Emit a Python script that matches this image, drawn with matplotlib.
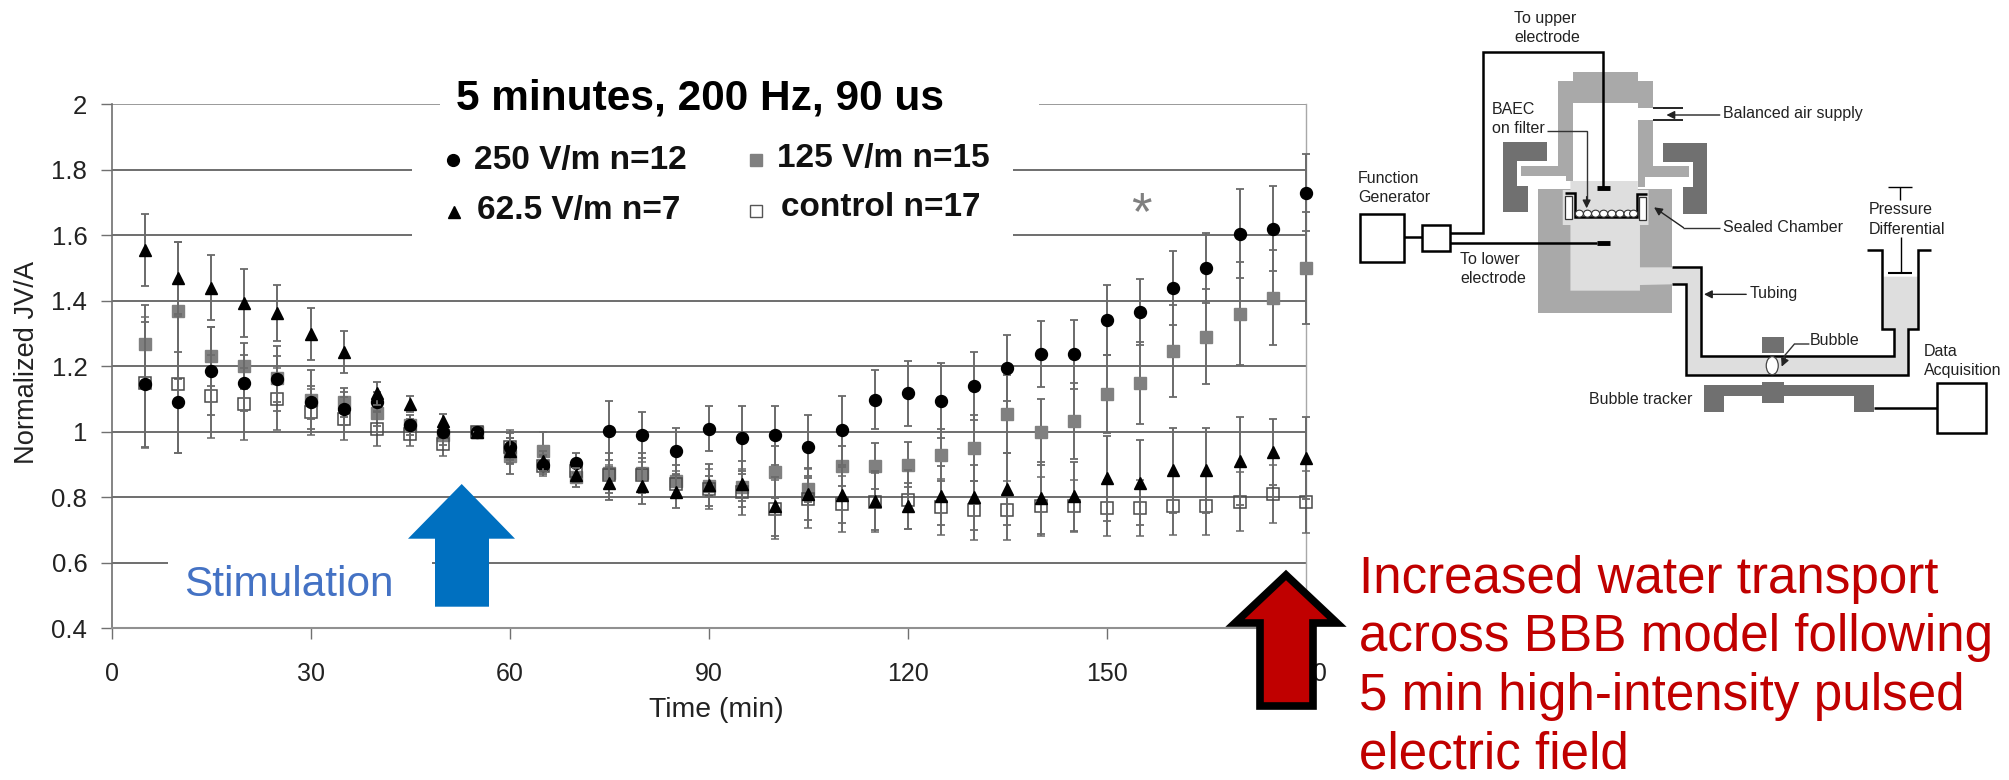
import numpy as np
import matplotlib
matplotlib.use('Agg')
import matplotlib.pyplot as plt
from matplotlib.patches import Polygon, Rectangle, Ellipse, Circle

plt.rcParams['font.family'] = ['Liberation Sans', 'DejaVu Sans']

# Chart data
time_min = list(range(5, 185, 5))

v250 = [1.145, 1.09, 1.185, 1.15, 1.16, 1.09, 1.07, 1.09, 1.02, 1.0, 1.0, 0.955,
        0.90, 0.905, 1.003, 0.99, 0.942, 1.01, 0.98, 0.99, 0.955, 1.005, 1.098, 1.117,
        1.095, 1.14, 1.195, 1.237, 1.237, 1.342, 1.366, 1.44, 1.50, 1.605, 1.62, 1.73]
err250 = [0.19, 0.155, 0.135, 0.085, 0.07, 0.05, 0.05, 0.03, 0.02, 0.02, 0.0, 0.04,
          0.03, 0.03, 0.09, 0.07, 0.07, 0.07, 0.10, 0.09, 0.095, 0.105, 0.09, 0.10,
          0.115, 0.105, 0.10, 0.10, 0.105, 0.107, 0.10, 0.113, 0.108, 0.135, 0.13, 0.117]

v125 = [1.268, 1.37, 1.23, 1.20, 1.163, 1.098, 1.09, 1.057, 1.02, 0.99, 1.0, 0.927,
        0.942, 0.862, 0.874, 0.874, 0.85, 0.835, 0.83, 0.877, 0.825, 0.896, 0.896, 0.90,
        0.929, 0.95, 1.054, 1.0, 1.033, 1.115, 1.149, 1.246, 1.29, 1.36, 1.41, 1.50]
err125 = [0.12, 0.21, 0.09, 0.07, 0.10, 0.09, 0.045, 0.04, 0.03, 0.03, 0.0, 0.055,
          0.058, 0.03, 0.06, 0.06, 0.05, 0.03, 0.04, 0.08, 0.04, 0.06, 0.07, 0.07,
          0.08, 0.10, 0.12, 0.10, 0.115, 0.12, 0.125, 0.14, 0.145, 0.157, 0.145, 0.17]

v62 = [1.555, 1.47, 1.44, 1.393, 1.362, 1.298, 1.244, 1.118, 1.085, 1.034, 1.0, 0.942,
       0.91, 0.868, 0.843, 0.834, 0.817, 0.837, 0.84, 0.773, 0.81, 0.808, 0.79, 0.774,
       0.805, 0.80, 0.825, 0.797, 0.803, 0.858, 0.845, 0.883, 0.883, 0.911, 0.938, 0.92]
err62 = [0.11, 0.11, 0.10, 0.105, 0.085, 0.08, 0.063, 0.035, 0.025, 0.02, 0.0, 0.04,
         0.03, 0.02, 0.05, 0.055, 0.05, 0.065, 0.07, 0.09, 0.08, 0.085, 0.09, 0.07,
         0.09, 0.10, 0.11, 0.11, 0.105, 0.13, 0.13, 0.13, 0.13, 0.135, 0.10, 0.125]

vctrl = [1.15, 1.145, 1.108, 1.085, 1.10, 1.06, 1.04, 1.01, 0.993, 0.962, 1.0, 0.955,
         0.895, 0.88, 0.868, 0.868, 0.84, 0.825, 0.815, 0.763, 0.795, 0.78, 0.785, 0.793,
         0.77, 0.76, 0.76, 0.773, 0.773, 0.767, 0.767, 0.774, 0.774, 0.786, 0.81, 0.785]
errctrl = [0.20, 0.21, 0.128, 0.11, 0.095, 0.07, 0.065, 0.053, 0.035, 0.035, 0.0, 0.05,
           0.03, 0.03, 0.03, 0.04, 0.04, 0.06, 0.07, 0.09, 0.09, 0.085, 0.09, 0.09,
           0.085, 0.09, 0.09, 0.09, 0.08, 0.085, 0.085, 0.09, 0.09, 0.09, 0.09, 0.095]

y_ticks = [0.4, 0.6, 0.8, 1, 1.2, 1.4, 1.6, 1.8, 2]
y_ticklabels = ['0.4', '0.6', '0.8', '1', '1.2', '1.4', '1.6', '1.8', '2']
x_ticks = [0, 30, 60, 90, 120, 150, 180]

W, H = 2009, 780
fig = plt.figure(figsize=(W / 100, H / 100), dpi=100)
ax = fig.add_axes([111.6 / W, 1 - 628.3 / H, (1306 - 111.6) / W, (628.3 - 104.3) / H])

ax.spines['top'].set_visible(False)
ax.spines['left'].set_color('#707070')
ax.spines['left'].set_linewidth(1.2)
ax.spines['right'].set_color('#a8a8a8')
ax.spines['right'].set_linewidth(1.0)
ax.spines['bottom'].set_color('#909090')
ax.spines['bottom'].set_linewidth(1.5)

ax.set_xlim(0, 180)
ax.set_ylim(0.4, 2)
ax.set_yticks(y_ticks)
ax.set_yticklabels(y_ticklabels)
ax.set_xticks(x_ticks)
ax.tick_params(axis='y', length=8, width=1, color='#707070', labelsize=18.5, pad=9.5, labelcolor='#222222')
ax.tick_params(axis='x', length=8, width=1, color='#707070', labelsize=18, pad=16, labelcolor='#222222')
ax.grid(axis='y', color='#6e6e6e', linewidth=1.4)
ax.get_ygridlines()[-1].set_color('#9a9a9a')
ax.set_axisbelow(True)

# Series
common = dict(linestyle='none', elinewidth=1.4, ecolor='#6a6a6a', capsize=3.2, capthick=1.3, clip_on=False)
ax.errorbar(time_min, v125, yerr=err125, marker='s', ms=8.6, mfc='#808080', mec='#808080', zorder=3, **common)
ax.errorbar(time_min, vctrl, yerr=errctrl, marker='s', ms=8, mfc='none', mec='#4a4a4a', mew=1.1, zorder=4, **common)
ax.errorbar(time_min, v250, yerr=err250, marker='o', ms=8.6, mfc='black', mec='black', zorder=5, **common)
ax.errorbar(time_min, v62, yerr=err62, marker='^', ms=9.2, mfc='black', mec='black', zorder=6, **common)

# Overlay in image pixels for slide annotations and schematic
ov = fig.add_axes([0, 0, 1, 1], zorder=10)
ov.set_xlim(0, W)
ov.set_ylim(H, 0)
ov.axis('off')
ov.patch.set_alpha(0)


def white(x0, y0, x1, y1):
    ov.add_patch(Rectangle((x0, y0), x1 - x0, y1 - y0, fc='white', ec='none', zorder=1))


white(440, 60, 1039, 135)
white(412, 135, 1013, 245)
white(168, 550, 432, 600)

ov.text(700, 98, '5 minutes, 200 Hz, 90 us', fontsize=30.5, fontweight='bold', ha='center', va='center', color='black', zorder=3)

legend_rows = [(453, 160, 'o', 'black', 'black', 474, 161, '250 V/m n=12'),
               (454, 212, '^', 'black', 'black', 477, 210, '62.5 V/m n=7'),
               (756, 160, 's', '#808080', '#808080', 777, 158, '125 V/m n=15'),
               (756, 211, 's', 'white', '#555555', 781, 208, 'control n=17')]
for mx, my, mk, fc, ec, tx, ty, lab in legend_rows:
    ov.plot([mx], [my], marker=mk, ms=8.5, mfc=fc, mec=ec, mew=1, ls='none', zorder=3)
    ov.text(tx, ty, lab, fontsize=24, fontweight='bold', ha='left', va='center', color='#111111', zorder=3)

ov.text(1141, 215, '*', fontsize=38, color='#808080', ha='center', va='center', zorder=3)

ov.text(716, 710, 'Time (min)', fontsize=20.4, ha='center', va='center', color='#222222')
ov.text(27, 362, 'Normalized JV/A', fontsize=19.6, rotation=90, ha='center', va='center', color='#222222')

ov.text(184, 585, 'Stimulation', fontsize=30.5, color='#4472c4', ha='left', va='center', zorder=3)

ov.add_patch(Polygon([(461.7, 484), (515, 538.7), (489, 538.7), (489, 606.7), (435, 606.7), (435, 538.7), (408, 538.7)],
                     closed=True, fc='#0070c0', ec='none', zorder=4))
ov.add_patch(Polygon([(1286, 575), (1337, 623), (1313, 623), (1313, 706), (1260, 706), (1260, 623), (1235, 623)],
                     closed=True, fc='#c00000', ec='black', lw=5.5, joinstyle='miter', zorder=4))

red_lines = ['Increased water transport', 'across BBB model following',
             '5 min high-intensity pulsed', 'electric field']
for i, line_txt in enumerate(red_lines):
    ov.text(1359, 593 + i * 58.5, line_txt, fontsize=36.8, color='#c00000', ha='left', va='baseline', zorder=3)


def px(zx):
    return 1340 + zx * 0.4267


def py(zy):
    return zy / 3


def poly(pts, fc, z=2):
    ov.add_patch(Polygon([(px(a), py(b)) for a, b in pts], closed=True, fc=fc, ec='none', zorder=z))


def line(pts, lw=1.8, c='black', z=5):
    ov.plot([px(a) for a, b in pts], [py(b) for a, b in pts], color=c, lw=lw, solid_capstyle='butt', solid_joinstyle='miter', zorder=z)


def arrow(x0, y0, x1, y1):
    ov.annotate('', xy=(px(x1), py(y1)), xytext=(px(x0), py(y0)),
                arrowprops=dict(arrowstyle='-|>', color='#222222', lw=1.0, mutation_scale=12, shrinkA=0, shrinkB=0), zorder=6)


MID, LIGHT, DARK = '#a9a9a9', '#dedede', '#707070'
poly([(465, 567), (778, 567), (778, 938), (465, 938)], MID)
poly([(545, 215), (698, 215), (698, 242), (733, 242), (733, 325), (698, 325), (698, 310), (545, 310),
      (545, 543), (530, 543), (530, 527), (425, 527), (425, 497), (510, 497), (510, 242), (545, 242)], MID)
poly([(698, 360), (733, 360), (733, 497), (818, 497), (818, 532), (715, 532), (715, 560), (698, 560)], MID)
poly([(540, 543), (698, 543), (698, 570), (723, 570), (723, 675), (703, 675), (703, 802), (847, 802), (847, 1067),
      (1298, 1067), (1298, 988), (1270, 988), (1270, 830), (1355, 830), (1355, 988), (1332, 988), (1332, 1125),
      (812, 1125), (812, 852), (703, 855), (703, 872), (540, 872), (540, 675), (522, 675), (522, 570), (540, 570)], LIGHT, z=3)
poly([(383, 427), (485, 427), (485, 482), (415, 482), (415, 557), (440, 557), (440, 635), (383, 635)], DARK)
poly([(758, 430), (860, 430), (860, 642), (803, 642), (803, 562), (828, 562), (828, 487), (758, 487)], DARK)
poly([(853, 1156), (988, 1156), (988, 1146), (1040, 1146), (1040, 1156), (1252, 1156), (1252, 1235), (1205, 1235),
      (1205, 1187), (1040, 1187), (1040, 1210), (988, 1210), (988, 1187), (900, 1187), (900, 1235), (853, 1235)], DARK)
poly([(990, 1010), (1040, 1010), (1040, 1058), (990, 1058)], DARK)

# wiring and outlines
line([(258, 700), (335, 700), (335, 157), (617, 157), (617, 565)])
line([(258, 728), (603, 728)])
line([(603, 728), (633, 728)], lw=3.5)
line([(603, 565), (633, 565)], lw=3.5)
line([(150, 710), (193, 710)])
line([(1252, 1225), (1398, 1225)])
ov.add_patch(Rectangle((px(46), py(643)), 104 * 0.4267, 142 / 3, fc='white', ec='black', lw=1.8, zorder=5))
ov.add_patch(Rectangle((px(193), py(676)), 65 * 0.4267, 78 / 3, fc='white', ec='black', lw=1.8, zorder=5))
ov.add_patch(Rectangle((px(1398), py(1150)), 115 * 0.4267, 150 / 3, fc='white', ec='black', lw=1.8, zorder=5))
line([(778, 802), (847, 802), (847, 1067), (1298, 1067), (1298, 988), (1270, 988), (1270, 750), (1236, 750)])
line([(778, 852), (812, 852), (812, 1125), (1332, 1125), (1332, 988), (1355, 988), (1355, 750), (1386, 750)])
line([(1285, 560), (1340, 560)], lw=1.0)
line([(1313, 560), (1313, 600)], lw=1.0)
line([(1315, 712), (1315, 820)], lw=1.0)
line([(1285, 820), (1340, 820)], lw=1.5)
line([(733, 325), (803, 325)], lw=1.2)
line([(733, 360), (803, 360)], lw=1.2)

# filter holder and cells
line([(527, 578), (550, 578), (550, 652), (695, 652), (695, 583), (720, 583)], lw=1.8)
ov.add_patch(Rectangle((px(528), py(588)), 15 * 0.4267, 68 / 3, fc='white', ec='#333333', lw=0.9, zorder=5))
ov.add_patch(Rectangle((px(701), py(592)), 15 * 0.4267, 68 / 3, fc='white', ec='#333333', lw=0.9, zorder=5))
for cx in [561, 580, 599, 618, 637, 656, 675, 688]:
    ov.add_patch(Ellipse((px(cx), py(641)), 8, 7, fc='white', ec='#333333', lw=0.8, zorder=5))
ov.add_patch(Ellipse((px(1013), py(1097)), 12, 18, fc='white', ec='#444444', lw=0.9, zorder=5))

# pointers
arrow(890, 345, 765, 345)
line([(485, 394), (578, 394), (578, 610)], lw=1.0, c='#333333')
arrow(578, 590, 578, 625)
line([(890, 683), (805, 683)], lw=1.0, c='#333333')
arrow(805, 683, 736, 622)
arrow(952, 883, 853, 883)
line([(1100, 1032), (1065, 1032), (1040, 1070)], lw=1.0, c='#333333')
arrow(1045, 1070, 1035, 1100)

labels = [(408, 57, 'To upper', 'left'), (408, 114, 'electrode', 'left'),
          (356, 327, 'BAEC', 'left'), (356, 385, 'on filter', 'left'),
          (898, 341, 'Balanced air supply', 'left'),
          (42, 535, 'Function', 'left'), (42, 592, 'Generator', 'left'),
          (898, 682, 'Sealed Chamber', 'left'),
          (1240, 630, 'Pressure', 'left'), (1240, 688, 'Differential', 'left'),
          (282, 777, 'To lower', 'left'), (282, 835, 'electrode', 'left'),
          (960, 880, 'Tubing', 'left'), (1102, 1022, 'Bubble', 'left'),
          (1368, 1055, 'Data', 'left'), (1368, 1112, 'Acquisition', 'left'),
          (583, 1197, 'Bubble tracker', 'left')]
for zx, zy, txt, ha in labels:
    ov.text(px(zx), py(zy), txt, fontsize=11.5, color='#222222', ha=ha, va='center', zorder=7)

fig.savefig('out.png', dpi=100, facecolor='white')
